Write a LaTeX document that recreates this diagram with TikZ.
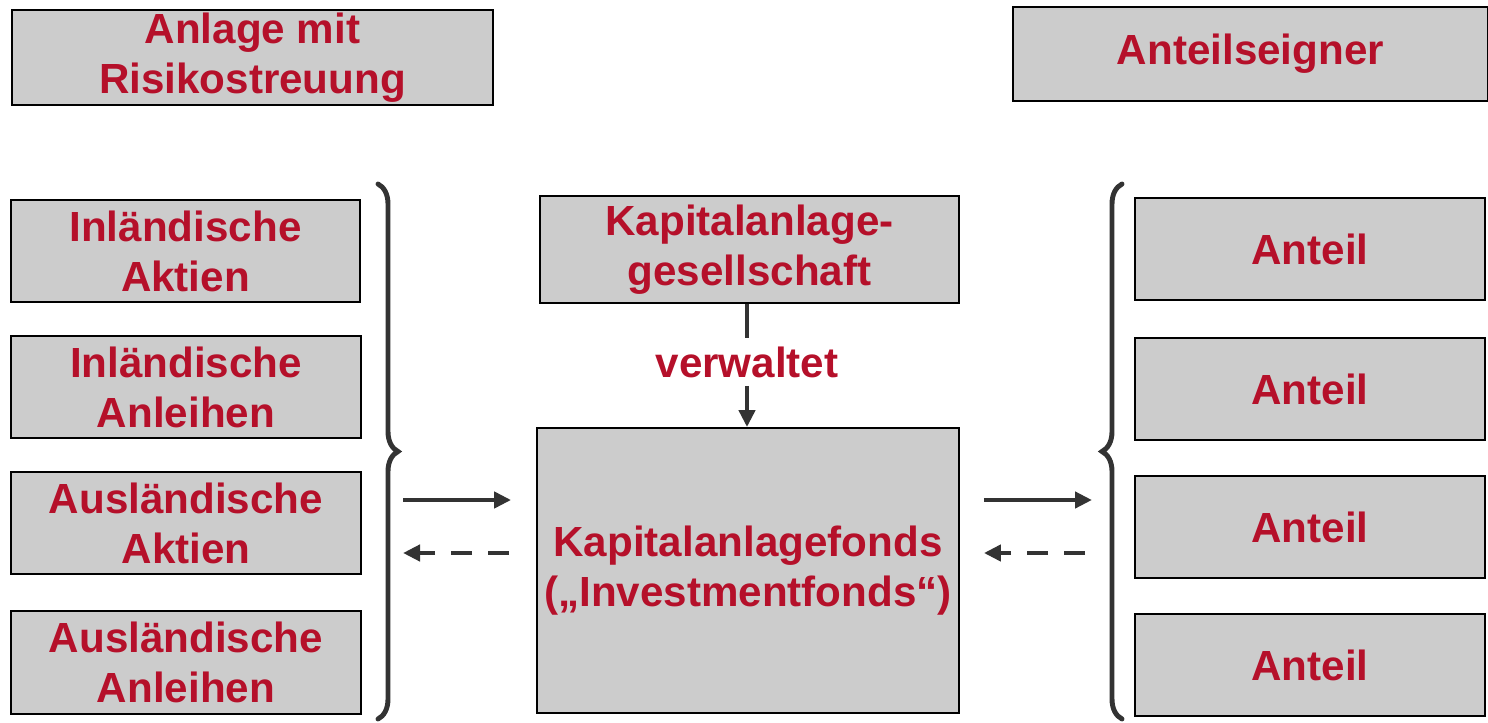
\documentclass[tikz,border=0pt]{standalone}
\usepackage{fontspec}
\setmainfont{Liberation Sans}
\usetikzlibrary{positioning}
\usetikzlibrary{arrows.meta,decorations.pathreplacing}
\definecolor{boxgray}{HTML}{CCCCCC}
\definecolor{fontred}{HTML}{B5102A}
\definecolor{linegray}{HTML}{333333}
\tikzset{
  box/.style={draw=black,fill=boxgray,line width=1.1pt,text=fontred,align=center,inner sep=0pt,font=\bfseries\fontsize{24}{28.5}\selectfont},
  label/.style={text=fontred,align=center,inner sep=0pt,font=\bfseries\fontsize{24}{28.5}\selectfont},
  conn/.style={draw=linegray,line width=2.8pt},
  arr/.style={conn,-{Triangle[length=0.34cm,width=0.32cm]}},
  dasharr/.style={arr,dash pattern=on 0.42cm off 0.32cm},
  curly/.style={draw=linegray,line width=2.8pt,line cap=round,decorate,decoration={brace,amplitude=0.4cm}}
}
\begin{document}
\begin{tikzpicture}[x=0.02cm,y=-0.02cm]
	  \useasboundingbox (0,0) rectangle (1488,723);
	  \node (risk) [box,minimum width=9.62cm,minimum height=1.9cm] at (252.5,57.5) {Anlage mit\\Risikostreuung};
	  \node (owner) [box,minimum width=9.5cm,minimum height=1.88cm] at (1250.5,54) {Anteilseigner};
	  % assets
	  \node (inakt) [box,minimum width=6.98cm,minimum height=2.04cm] at (185.5,251) {Inländische\\Aktien};
	  \node (inanl) [box,minimum width=7cm,minimum height=2.04cm] at (186,387) {Inländische\\Anleihen};
	  \node (auakt) [box,minimum width=7cm,minimum height=2.04cm] at (186,523) {Ausländische\\Aktien};
	  \node (auanl) [box,minimum width=7cm,minimum height=2.06cm] at (186,662.5) {Ausländische\\Anleihen};
	  % middle
	  \node (kag) [box,minimum width=8.38cm,minimum height=2.14cm] at (749.5,249.5) {Kapitalanlage-\\gesellschaft};
	  \node (fund) [box,minimum width=8.44cm,minimum height=5.7cm] at (748,570.5) {Kapitalanlagefonds\\(„Investmentfonds“)};
	  \node (verw) [label,minimum height=0.94cm] at (747,362) {verwaltet};
	  \draw[conn] (kag.south -| verw) -- (verw.north);
	  \draw[arr] (verw.south) -- (verw |- fund.north);
	  % shares
	  \node (ant1) [box,minimum width=7cm,minimum height=2.04cm] at (1310,249) {Anteil};
	  \node (ant2) [box,minimum width=7cm,minimum height=2.04cm] at (1310,389) {Anteil};
	  \node (ant3) [box,minimum width=7cm,minimum height=2.04cm] at (1310,527) {Anteil};
	  \node (ant4) [box,minimum width=7cm,minimum height=2.04cm] at (1310,665) {Anteil};
	  % braces
	  \draw[curly] (378,184) -- (378,719);
	  \draw[curly] (1122,719) -- (1122,184);
	  \coordinate (lin) at (403,500);
	  \coordinate (lout) at (403,553);
	  \coordinate (rin) at (1092,500);
	  \coordinate (rout) at (1085,553);
	  \draw[arr,shorten >=0.5cm] (lin) -- (fund.west |- lin);
	  \draw[dasharr,shorten <=0.54cm] (fund.west |- lout) -- (lout);
	  \draw[arr,shorten <=0.48cm] (fund.east |- rin) -- (rin);
	  \draw[dasharr] (rout) -- ([xshift=0.48cm]fund.east |- rout);
	\end{tikzpicture}
\end{document}
